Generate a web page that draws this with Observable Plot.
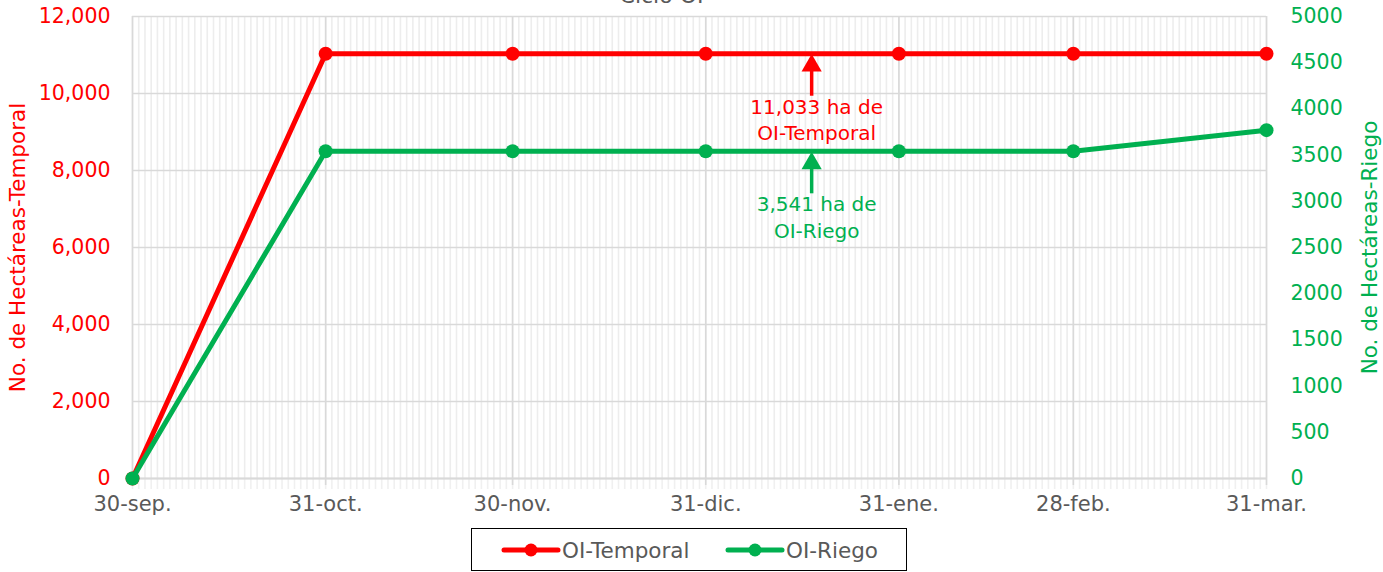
<!DOCTYPE html>
<html>
<head>
<meta charset="utf-8">
<script src="https://cdn.jsdelivr.net/npm/d3@7"></script>
<script src="https://cdn.jsdelivr.net/npm/@observablehq/plot@0.6"></script>
<style>
  html, body { margin: 0; padding: 0; background: #fff; overflow: hidden; }
  #wrap { position: relative; width: 1383px; height: 572px; font-family: "DejaVu Sans", sans-serif; }
  #title { position: absolute; top: -17px; left: 0; width: 1323px; text-align: center; font-size: 22px; color: #595959; }
  #legend { position: absolute; left: 471px; top: 528px; width: 434px; height: 41px; border: 1.5px solid #000; box-sizing: content-box; }
  #legend svg { display: block; }
</style>
</head>
<body>
<div id="wrap">
  <div id="chart"></div>
  <div id="title">Ciclo OI</div>
  <div id="legend"></div>
</div>
<script>
// ---- data ----
const dates = ["2022-09-30", "2022-10-31", "2022-11-30", "2022-12-31", "2023-01-31", "2023-02-28", "2023-03-31"];
const xLabels = ["30-sep.", "31-oct.", "30-nov.", "31-dic.", "31-ene.", "28-feb.", "31-mar."];
const temporal = [0, 11033, 11033, 11033, 11033, 11033, 11033];
const riego = [0, 3541, 3541, 3541, 3541, 3541, 3770];
const leftTicks = [0, 2000, 4000, 6000, 8000, 10000, 12000];
const rightTicks = [0, 500, 1000, 1500, 2000, 2500, 3000, 3500, 4000, 4500, 5000];
const seriesNames = ["OI-Temporal", "OI-Riego"];
const annotations = [
  {date: "2023-01-17", series: "OI-Temporal", value: 11033, text: "11,033 ha de\nOI-Temporal"},
  {date: "2023-01-17", series: "OI-Riego", value: 3541, text: "3,541 ha de\nOI-Riego"}
];

const RED = "#FF0000", GREEN = "#00B050", GRAY = "#595959";
const leftMax = 12000, rightMax = 5000;
const k = leftMax / rightMax; // secondary-axis mapping

const parse = d3.utcParse("%Y-%m-%d");
const X = dates.map(parse);
const tData = X.map((d, i) => ({date: d, v: temporal[i]}));
const rData = X.map((d, i) => ({date: d, v: riego[i] * k}));
const days = d3.utcDay.range(X[0], d3.utcDay.offset(X[X.length - 1], 1));

const ann = annotations.map(a => ({
  date: parse(a.date),
  y: a.series === "OI-Riego" ? a.value * k : a.value,
  text: a.text,
  color: a.series === "OI-Riego" ? GREEN : RED
}));

const font = "DejaVu Sans, sans-serif";

const chart = Plot.plot({
  width: 1383,
  height: 572,
  marginLeft: 132,
  marginRight: 117,
  marginTop: 16,
  marginBottom: 94,
  style: {fontFamily: font, fontSize: "20px", background: "transparent"},
  x: {type: "utc", domain: [X[0], X[X.length - 1]]},
  y: {domain: [0, leftMax]},
  marks: [
    // daily minor gridlines
    Plot.ruleX(days, {y1: 0, y2: leftMax, stroke: "#ededed", strokeWidth: 1.6}),
    // minor ticks below the axis
    Plot.axisX({ticks: days, tickSize: 11, tickFormat: () => "", stroke: "#f0f0f0", strokeWidth: 1.6}),
    // horizontal major gridlines
    Plot.ruleY(leftTicks, {stroke: "#d9d9d9", strokeWidth: 1.6}),
    // month gridlines
    Plot.ruleX(X, {y1: 0, y2: leftMax, stroke: "#d9d9d9", strokeWidth: 1.6}),
    Plot.ruleY([0], {stroke: "#d9d9d9", strokeWidth: 2.2}),
    Plot.axisX({
      ticks: X, tickFormat: (d, i) => xLabels[i], tickSize: 7, tickPadding: 11,
      stroke: "#d9d9d9", strokeWidth: 1.6, fill: GRAY, fontSize: 21, label: null
    }),
    Plot.axisY({
      anchor: "left", ticks: leftTicks, tickFormat: d3.format(","), tickSize: 0, tickPadding: 22,
      fill: RED, fontSize: 20.5,
      label: "No. de Hectáreas-Temporal", labelAnchor: "center", labelArrow: "none", labelOffset: 123
    }),
    Plot.axisY({
      anchor: "right", ticks: rightTicks.map(v => v * k), tickFormat: d => String(Math.round(d / k)),
      tickSize: 0, tickPadding: 24, fill: GREEN, fontSize: 20.5,
      label: "No. de Hectáreas-Riego", labelAnchor: "center", labelArrow: "none", labelOffset: 110
    }),
    // series
    Plot.line(tData, {x: "date", y: "v", stroke: RED, strokeWidth: 5}),
    Plot.dot(tData, {x: "date", y: "v", r: 7, fill: RED}),
    Plot.line(rData, {x: "date", y: "v", stroke: GREEN, strokeWidth: 5}),
    Plot.dot(rData, {x: "date", y: "v", r: 7, fill: GREEN}),
    // annotation arrows
    Plot.link(ann, {x1: "date", x2: "date", y1: "y", y2: "y", stroke: "color", strokeWidth: 3.5,
      render: (index, scales, values, dims, context, next) => {
        const g = next(index, scales, values, dims, context);
        d3.select(g).selectAll("path").each(function(_, j) {
          const i = index[j];
          const x = values.x1[i], y = values.y1[i];
          d3.select(this).attr("d", `M${x},${y + 42}L${x},${y + 12}`);
        });
        return g;
      }
    }),
    Plot.dot(ann, {x: "date", y: "y", symbol: "triangle", r: 7.5, fill: "color", dy: 12}),
    Plot.text(ann, {x: "date", y: "y", text: "text", fill: "color", dy: 41, dx: 5, lineAnchor: "top",
      fontSize: 20, lineHeight: 1.33})
  ]
});
// y-axis titles: slightly larger than tick labels
d3.select(chart).selectAll("[aria-label='y-axis label'] text").attr("font-size", 21.5);
document.getElementById("chart").appendChild(chart);

// legend
const colors = [RED, GREEN];
const lg = d3.select("#legend").append("svg").attr("width", 434).attr("height", 41);
const itemX = [32, 256];
seriesNames.forEach((name, i) => {
  const g = lg.append("g").attr("transform", `translate(${itemX[i]},21)`);
  g.append("line").attr("x1", 0).attr("x2", 54).attr("stroke", colors[i]).attr("stroke-width", 5).attr("stroke-linecap", "round");
  g.append("circle").attr("cx", 27).attr("r", 6.5).attr("fill", colors[i]);
  g.append("text").attr("x", 58).attr("dy", "0.35em").attr("fill", GRAY)
    .attr("font-family", font).attr("font-size", 21.5).text(name);
});
</script>
</body>
</html>
